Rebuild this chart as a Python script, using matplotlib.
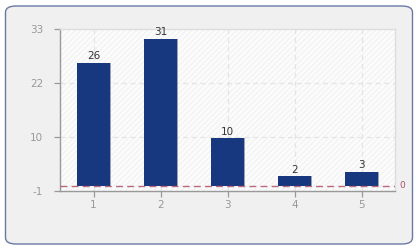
import numpy as np
import matplotlib
matplotlib.use("Agg")
import matplotlib.pyplot as plt
from matplotlib.patches import FancyBboxPatch, Rectangle

# data
categories = [1, 2, 3, 4, 5]
values = [26, 31, 10, 2, 3]
ytick_vals = np.linspace(-1, 33, 4)
ytick_labels = ["-1", "10", "22", "33"]

fig = plt.figure(figsize=(4.2, 2.5), dpi=100)
fig.patch.set_facecolor("white")

# rounded outer frame, kept behind the axes
frame = FancyBboxPatch((5.5 / 420, 6 / 250), 407 / 420, 238 / 250,
                       boxstyle="round,pad=0,rounding_size=0.025",
                       transform=fig.transFigure, facecolor="#f0f0f0",
                       edgecolor="#6a78a8", linewidth=1.0, zorder=-10)
fig.add_artist(frame)

ax = fig.add_axes([60 / 420, 1 - 190.7 / 250, 335 / 420, 161.4 / 250])
ax.set_facecolor("white")
ax.set_xlim(0.5, 5.5)
ax.set_ylim(-1, 33)

# faint diagonal hatching on plot background
bg = Rectangle((0, 0), 1, 1, transform=ax.transAxes, facecolor="#fcfcfc",
               edgecolor="#f3f3f3", hatch="//////", linewidth=0, zorder=0)
ax.add_patch(bg)

# grid
for y in ytick_vals[1:-1]:
    ax.axhline(y, color="#e4e4e4", linestyle=(0, (4, 3)), linewidth=0.9, zorder=1)
for x in categories:
    ax.axvline(x, color="#e4e4e4", linestyle=(0, (4, 3)), linewidth=0.9, zorder=1)

# bar shadow + bars
cats = np.array(categories)
ax.bar(cats + 0.015, values, width=0.5, color="#9aa2b4", zorder=2)
ax.bar(cats, values, width=0.5, color="#17387e", zorder=3)

for x, v in zip(categories, values):
    ax.text(x, v + 0.3, str(v), ha="center", va="bottom", fontsize=7.5,
            color="#333333", zorder=5)

# baseline at zero
ax.axhline(0, color="#b05068", linestyle=(0, (5, 3)), linewidth=1.0,
           alpha=0.85, zorder=4)
ax.text(5.56, 0, "0", ha="left", va="center", fontsize=6.5, color="#b05068",
        clip_on=False)

ax.set_xticks(categories)
ax.set_xticklabels([str(c) for c in categories])
ax.set_yticks(ytick_vals)
ax.set_yticklabels(ytick_labels)
ax.tick_params(axis="both", colors="#999999", labelsize=7.5, length=4,
               width=0.9, direction="out")
ax.tick_params(axis="y", pad=8)
ax.tick_params(axis="x", pad=3)

for side in ["left", "bottom"]:
    ax.spines[side].set_color("#999999")
    ax.spines[side].set_linewidth(1.0)
for side in ["top", "right"]:
    ax.spines[side].set_color("#dddddd")
    ax.spines[side].set_linewidth(1.0)

fig.savefig("out.png", dpi=100)
